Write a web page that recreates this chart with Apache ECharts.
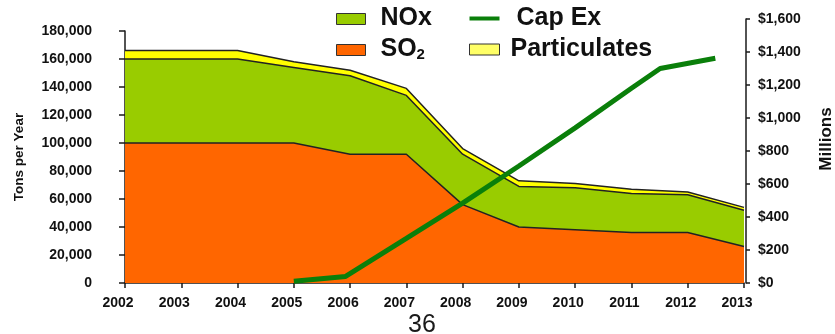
<!DOCTYPE html>
<html>
<head>
<meta charset="utf-8">
<script src="https://cdn.jsdelivr.net/npm/echarts@6/dist/echarts.min.js"></script>
<style>
  html, body { margin: 0; padding: 0; background: #fff; }
  #chart { width: 835px; height: 334px; }
</style>
</head>
<body>
<div id="chart"></div>
<script>
// Emissions (tons per year), stacked: SO2 at the bottom, then NOx, then particulates
const years = ['2002', '2003', '2004', '2005', '2006', '2007', '2008', '2009', '2010', '2011', '2012', '2013'];
const so2 = [100000, 100000, 100000, 100000, 92000, 92000, 56000, 40000, 38000, 36000, 36000, 26000];
const nox = [60000, 60000, 60000, 54000, 56000, 42000, 36000, 29000, 30000, 28000, 27000, 26000];
const particulates = [6000, 6000, 6000, 4000, 4000, 5000, 4000, 4000, 3000, 3000, 2000, 2000];

// Cumulative capital expenditure ($ millions) by fractional year
const capExYears = [2005.0, 2005.92, 2007, 2008, 2009, 2010, 2011, 2011.51, 2012.49];
const capExMillions = [10, 40, 270, 484, 709, 940, 1180, 1300, 1362];

// Axis ranges
const tonsAxis = { min: 0, max: 180000, interval: 20000 };
const dollarAxis = { min: 0, max: 1600, interval: 200 };
const yearRange = { min: 2002, max: 2013 };

const FONT = "'Liberation Sans', Arial, sans-serif";
const INK = '#111';
const AXIS = '#1a1a1a';

const C_SO2 = '#FF6600';
const C_NOX = '#99CC00';
const C_PART = '#FFFF00';
const C_CAPEX = '#0a7f0a';

function withCommas(v) {
  return String(v).replace(/\B(?=(\d{3})+(?!\d))/g, ',');
}

const chart = echarts.init(document.getElementById('chart'), null, { renderer: 'canvas' });

const areaSeries = (name, data, fill) => ({
  name,
  type: 'line',
  xAxisIndex: 0,
  yAxisIndex: 0,
  stack: 'emissions',
  data,
  symbol: 'none',
  showSymbol: false,
  silent: true,
  itemStyle: { color: fill },
  lineStyle: { color: '#222', width: 1.5 },
  areaStyle: { color: fill, opacity: 1 },
  z: 2
});

const legendText = { fontFamily: FONT, fontSize: 25, fontWeight: 'bold', color: INK, lineHeight: 24 };

chart.setOption({
  animation: false,
  textStyle: { fontFamily: FONT },
  grid: [
    { left: 125, right: 91, top: 31, bottom: 51, outerBoundsMode: 'none', containLabel: false },
    { left: 125, right: 91, top: 19, bottom: 51, outerBoundsMode: 'none', containLabel: false }
  ],
  legend: [
    {
      orient: 'vertical',
      left: 336,
      top: 6,
      padding: 0,
      itemWidth: 29,
      itemHeight: 11,
      itemGap: 6,
      selectedMode: false,
      icon: 'rect',
      itemStyle: { borderColor: '#333', borderWidth: 1 },
      data: [
        { name: 'NOx', itemStyle: { color: C_NOX } },
        { name: 'SO2', itemStyle: { color: C_SO2 } }
      ],
      formatter: n => n === 'SO2' ? '{t|SO}{s|2}' : '{t|' + n + '}',
      textStyle: {
        ...legendText,
        padding: [0, 0, 0, 10],
        rich: {
          t: { ...legendText, verticalAlign: 'bottom' },
          s: { fontFamily: FONT, fontSize: 15, fontWeight: 'bold', color: INK, verticalAlign: 'bottom', lineHeight: 24 }
        }
      }
    },
    {
      orient: 'vertical',
      left: 469,
      top: 6,
      padding: 0,
      itemWidth: 30,
      itemHeight: 11,
      itemGap: 6,
      selectedMode: false,
      itemStyle: { borderColor: '#333', borderWidth: 1 },
      data: [
        { name: 'Cap Ex', icon: 'path://M0,0H30V4H0Z', itemStyle: { color: C_CAPEX, borderWidth: 0 } },
        { name: 'Particulates', icon: 'rect', itemStyle: { color: '#FFFF66' } }
      ],
      formatter: n => n === 'Cap Ex' ? '{g|' + n + '}' : '{t|' + n + '}',
      textStyle: {
        ...legendText,
        padding: [0, 0, 0, 6],
        rich: {
          t: { ...legendText },
          g: { ...legendText, padding: [0, 0, 0, 6] }
        }
      }
    }
  ],
  xAxis: [
    {
      type: 'category',
      gridIndex: 0,
      data: years,
      boundaryGap: false,
      axisLine: { lineStyle: { color: AXIS, width: 1.5 } },
      axisTick: { alignWithLabel: true, length: 5, lineStyle: { color: AXIS, width: 1.5 } },
      axisLabel: {
        color: INK, fontSize: 14, fontWeight: 'bold', fontFamily: FONT,
        margin: 13, padding: [0, 14, 0, 0]
      },
      splitLine: { show: false }
    },
    {
      type: 'value',
      gridIndex: 1,
      min: yearRange.min,
      max: yearRange.max,
      show: false
    }
  ],
  yAxis: [
    {
      type: 'value',
      gridIndex: 0,
      position: 'left',
      min: tonsAxis.min,
      max: tonsAxis.max,
      interval: tonsAxis.interval,
      name: 'Tons per Year',
      nameLocation: 'middle',
      nameRotate: 90,
      nameGap: 99,
      nameTextStyle: { color: INK, fontSize: 13.5, fontWeight: 'bold', fontFamily: FONT },
      axisLine: { show: true, lineStyle: { color: AXIS, width: 1.5 } },
      axisTick: { show: true, length: 6, lineStyle: { color: AXIS, width: 1.5 } },
      axisLabel: {
        color: INK, fontSize: 14, fontWeight: 'bold', fontFamily: FONT, margin: 33,
        formatter: v => withCommas(v)
      },
      splitLine: { show: false }
    },
    {
      type: 'value',
      gridIndex: 1,
      position: 'right',
      offset: 2,
      min: dollarAxis.min,
      max: dollarAxis.max,
      interval: dollarAxis.interval,
      name: 'Millions',
      nameLocation: 'middle',
      nameRotate: 90,
      nameGap: 72,
      nameTextStyle: {
        color: INK, fontSize: 17, fontWeight: 'bold', fontFamily: FONT,
        padding: [0, 0, 0, 24]
      },
      axisLine: { show: true, lineStyle: { color: AXIS, width: 1.5 } },
      axisTick: { show: true, length: 4, lineStyle: { color: AXIS, width: 1.5 } },
      axisLabel: {
        color: INK, fontSize: 14, fontWeight: 'bold', fontFamily: FONT, margin: 12,
        formatter: v => '$' + withCommas(v)
      },
      splitLine: { show: false }
    }
  ],
  series: [
    areaSeries('SO2', so2, C_SO2),
    areaSeries('NOx', nox, C_NOX),
    areaSeries('Particulates', particulates, C_PART),
    {
      name: 'Cap Ex',
      type: 'line',
      xAxisIndex: 1,
      yAxisIndex: 1,
      data: capExYears.map((y, i) => [y, capExMillions[i]]),
      symbol: 'none',
      showSymbol: false,
      silent: true,
      itemStyle: { color: C_CAPEX },
      lineStyle: { color: C_CAPEX, width: 5 },
      z: 5
    }
  ],
  graphic: [
    {
      type: 'text',
      x: 422,
      y: 313,
      style: {
        text: '36',
        fontFamily: FONT,
        fontSize: 25,
        fill: '#1a1a1a',
        align: 'center',
        verticalAlign: 'top'
      }
    }
  ]
});
</script>
</body>
</html>
